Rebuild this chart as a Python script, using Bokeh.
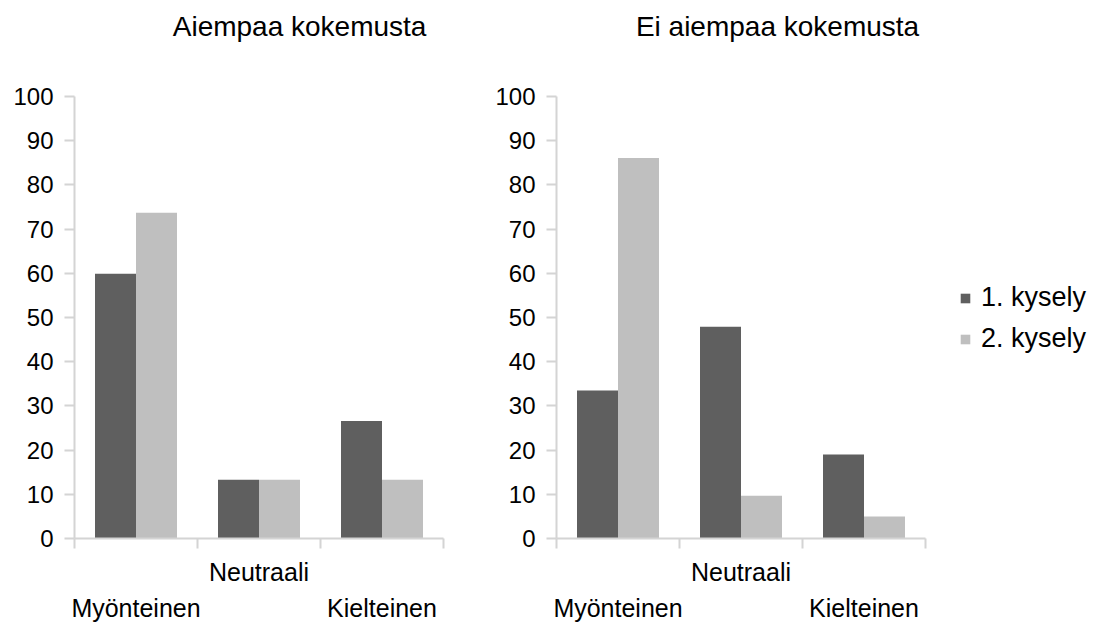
from bokeh.plotting import figure
from bokeh.models import (ColumnDataSource, Range1d, LinearAxis, FixedTicker,
                          Legend, LegendItem)
from bokeh.layouts import row
from bokeh.transform import dodge
from bokeh.embed import file_html
from bokeh.resources import INLINE

categories = ["Myönteinen", "Neutraali", "Kielteinen"]
series_names = ["1. kysely", "2. kysely"]
titles = ["Aiempaa kokemusta", "Ei aiempaa kokemusta"]
left_s1 = [59.9, 13.3, 26.6]
left_s2 = [73.7, 13.3, 13.3]
right_s1 = [33.5, 47.9, 19.0]
right_s2 = [86.1, 9.7, 5.0]
y_ticks = list(range(0, 101, 10))

FONT = "Liberation Sans"
DARK = "#5f5f5f"
LIGHT = "#bfbfbf"
AXIS = "#d4d4d4"
NCAT = len(categories)
PX_PER_CAT = 123.0


def plain_axis(ticks, labels, standoff, size):
    ax = LinearAxis(ticker=FixedTicker(ticks=ticks), major_label_overrides=labels)
    ax.axis_line_color = None
    ax.major_tick_line_color = None
    ax.major_tick_in = 0
    ax.major_tick_out = 0
    ax.minor_tick_line_color = None
    ax.major_label_standoff = standoff
    ax.major_label_text_font = FONT
    ax.major_label_text_font_size = size
    ax.major_label_text_color = "#000000"
    return ax


def make_panel(title, s1, s2, width, left_border, right_border, frame_w, title_x):
    src = ColumnDataSource(dict(x=[i + 0.5 for i in range(NCAT)], s1=s1, s2=s2))
    x_end = frame_w / PX_PER_CAT
    p = figure(width=width, height=624, x_range=Range1d(0, x_end), y_range=Range1d(0, 100),
               output_backend="svg", toolbar_location=None, x_axis_type=None,
               y_axis_type=None, min_border_left=left_border, min_border_right=right_border,
               min_border_top=96, min_border_bottom=80)
    p.outline_line_color = None
    p.xgrid.visible = False
    p.ygrid.visible = False

    r1 = p.vbar(x=dodge("x", -1 / 6, range=p.x_range), top="s1", width=1 / 3, bottom=0,
                source=src, fill_color=DARK, line_color=None)
    r2 = p.vbar(x=dodge("x", 1 / 6, range=p.x_range), top="s2", width=1 / 3, bottom=0,
                source=src, fill_color=LIGHT, line_color=None)

    yax = LinearAxis(ticker=FixedTicker(ticks=y_ticks))
    yax.axis_line_color = AXIS
    yax.axis_line_width = 2
    yax.major_tick_line_color = AXIS
    yax.major_tick_line_width = 2
    yax.major_tick_in = 0
    yax.major_tick_out = 10
    yax.minor_tick_line_color = None
    yax.major_label_standoff = 11
    yax.major_label_text_font = FONT
    yax.major_label_text_font_size = "24px"
    yax.major_label_text_color = "#000000"
    p.add_layout(yax, "left")

    # category boundary ticks
    xax = LinearAxis(ticker=FixedTicker(ticks=list(range(NCAT + 1))), bounds=(0, NCAT))
    xax.axis_line_color = AXIS
    xax.axis_line_width = 2
    xax.major_tick_line_color = AXIS
    xax.major_tick_line_width = 2
    xax.major_tick_in = 0
    xax.major_tick_out = 10
    xax.minor_tick_line_color = None
    xax.major_label_text_color = None
    xax.major_label_text_font_size = "0px"
    xax.major_label_standoff = 0
    p.add_layout(xax, "below")

    # staggered category labels: odd ones on the upper row, even ones on the lower row
    for parity, standoff in ((1, 9), (0, 5)):
        pos = [i + 0.5 for i in range(NCAT) if i % 2 == parity]
        lab = {i + 0.5: c for i, c in enumerate(categories) if i % 2 == parity}
        p.add_layout(plain_axis(pos, lab, standoff, "25px"), "below")

    # panel title, centred where the original places it
    p.add_layout(plain_axis([title_x], {title_x: title}, 55, "28px"), "above")
    return p, r1, r2


p1, _, _ = make_panel(titles[0], left_s1, left_s2, 490, 74, 47, 369, 1.83)
p2, r1, r2 = make_panel(titles[1], right_s1, right_s2, 600, 66, 0, 534, 1.797)

legend = Legend(items=[LegendItem(label=series_names[0], renderers=[r1]),
                       LegendItem(label=series_names[1], renderers=[r2])],
                location=(403, 184), padding=0, margin=0, spacing=10,
                glyph_width=12, glyph_height=12, label_standoff=10,
                label_text_font=FONT, label_text_font_size="27px",
                label_text_color="#000000", border_line_color=None,
                background_fill_alpha=0)
p2.add_layout(legend)

layout = row(p1, p2)
open("out.html", "w").write(file_html(layout, INLINE))
